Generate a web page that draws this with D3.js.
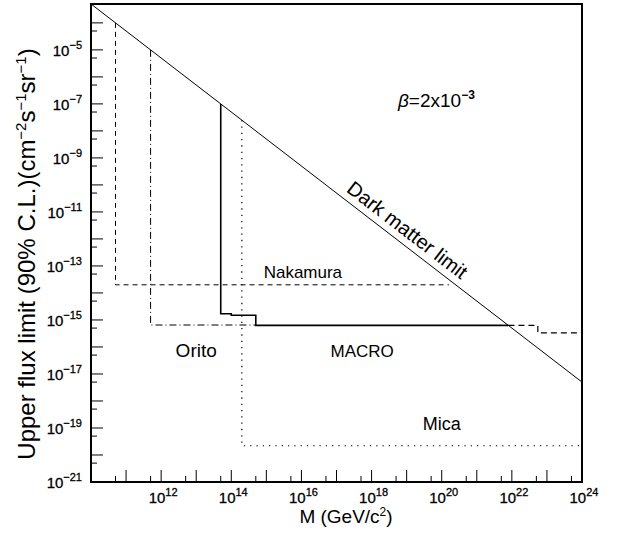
<!DOCTYPE html>
<html>
<head>
<meta charset="utf-8">
<script src="https://cdn.jsdelivr.net/npm/d3@7"></script>
<style>
  body { margin: 0; background: #fff; }
  svg text { font-family: "Liberation Sans", Arial, Helvetica, sans-serif; fill: #000; }
</style>
</head>
<body>
<div id="chart"></div>
<script>
// mass (GeV/c^2) and flux limits (cm^-2 s^-1 sr^-1)
var darkM = [1e10, 1e24]
var darkFlux = [5e-4, 5e-18]

var nakamuraM = [5e10, 5e10, 1.6e20]
var nakamuraFlux = [1e-4, 2e-14, 2e-14]

var oritoM = [5e11, 5e11, 5e14]
var oritoFlux = [1e-5, 6.5e-16, 6.5e-16]

var macroM = [5e13, 5e13, 1e14, 1e14, 5e14, 5e14, 8e21]
var macroFlux = [1e-7, 1.7e-15, 1.7e-15, 1.5e-15, 1.5e-15, 6.3e-16, 6.3e-16]

var macroExtM = [8e21, 5.5e22, 5.5e22, 1e24]
var macroExtFlux = [6.3e-16, 6.3e-16, 3.3e-16, 3.3e-16]

var micaM = [2e14, 2e14, 1e24]
var micaFlux = [2.5e-8, 2.2e-20, 2.2e-20]

var xLabelExp = [12, 14, 16, 18, 20, 22, 24]
var yLabelExp = [-21, -19, -17, -15, -13, -11, -9, -7, -5]

var width = 624, height = 537
var margin = {left: 91, right: 42, top: 4, bottom: 55}

var svg = d3.select("#chart").append("svg")
    .attr("width", width)
    .attr("height", height)

var x = d3.scaleLog().domain([1e10, 1e24]).range([margin.left, width - margin.right])
var y = d3.scaleLog().domain([1e-21, 5e-4]).range([height - margin.bottom, margin.top])

var x0 = x.range()[0], x1 = x.range()[1]
var y0 = y.range()[0], y1 = y.range()[1]

// ticks: long at each decade, short at 5 x 10^n
var xMajor = d3.range(10, 25).map(function(e) { return Math.pow(10, e) })
var xMinor = d3.range(10, 24).map(function(e) { return 5 * Math.pow(10, e) })
var yMajor = d3.range(-21, -3).map(function(e) { return Math.pow(10, e) })
var yMinor = d3.range(-21, -3).map(function(e) { return 5 * Math.pow(10, e) }).filter(function(v) { return v <= 5e-4 })

var ticks = svg.append("g").attr("stroke", "#000").attr("stroke-width", 1)

ticks.selectAll(".xt").data(xMajor.map(function(v) { return {v: v, l: 12} }).concat(xMinor.map(function(v) { return {v: v, l: 6} })))
    .enter().append("line")
    .attr("x1", function(d) { return x(d.v) }).attr("x2", function(d) { return x(d.v) })
    .attr("y1", y0).attr("y2", function(d) { return y0 - d.l })

ticks.selectAll(".yt").data(yMajor.map(function(v) { return {v: v, l: 12} }).concat(yMinor.map(function(v) { return {v: v, l: 6} })))
    .enter().append("line")
    .attr("y1", function(d) { return y(d.v) }).attr("y2", function(d) { return y(d.v) })
    .attr("x1", x0).attr("x2", function(d) { return x0 + d.l })

// tick labels
var xl = svg.selectAll(".xl").data(xLabelExp).enter().append("text")
    .attr("x", function(e) { return x(Math.pow(10, e)) + 2 })
    .attr("y", 503)
    .attr("text-anchor", "middle")
    .style("font-size", "15px")
    .style("stroke", "#000").style("stroke-width", 0.3)
xl.append("tspan").text("10")
xl.append("tspan").attr("dy", -7).style("font-size", "11px").text(function(e) { return e })

var yl = svg.selectAll(".yl").data(yLabelExp).enter().append("text")
    .attr("x", 82)
    .attr("y", function(e) { return y(Math.pow(10, e)) + 6 })
    .attr("text-anchor", "end")
    .style("font-size", "15px")
    .style("stroke", "#000").style("stroke-width", 0.3)
yl.append("tspan").text("10")
yl.append("tspan").attr("dy", -7).style("font-size", "11px").text(function(e) { return "\u2212" + (-e) })

// curves
var line = d3.line().x(function(d) { return x(d[0]) }).y(function(d) { return y(d[1]) })
function pts(m, f) { return m.map(function(v, i) { return [v, f[i]] }) }

var curves = [
    {m: darkM, f: darkFlux, dash: null, w: 1},
    {m: nakamuraM, f: nakamuraFlux, dash: "5,4", w: 1},
    {m: oritoM, f: oritoFlux, dash: "7,3,1,3", w: 1},
    {m: macroM, f: macroFlux, dash: null, w: 1.6},
    {m: macroExtM, f: macroExtFlux, dash: "6,4", w: 1.2},
    {m: micaM, f: micaFlux, dash: "1.3,5", w: 1.2}
]

svg.append("g").selectAll("path").data(curves).enter().append("path")
    .attr("d", function(c) { return line(pts(c.m, c.f)) })
    .attr("fill", "none")
    .attr("stroke", "#000")
    .attr("stroke-width", function(c) { return c.w })
    .attr("stroke-dasharray", function(c) { return c.dash })

// frame
svg.append("rect")
    .attr("x", x0).attr("y", y1)
    .attr("width", x1 - x0).attr("height", y0 - y1)
    .attr("fill", "none").attr("stroke", "#000").attr("stroke-width", 2)

// curve labels
function label(txt, cx, cy, size) {
    svg.append("text").attr("x", cx).attr("y", cy)
        .attr("text-anchor", "middle").style("font-size", size + "px").text(txt)
}
label("Nakamura", x(1.1e16), 278, 17)
label("Orito", x(1e13), 357, 19)
label("MACRO", x(5.4e17), 357, 17)
label("Mica", x(1e20), 430, 18)

// dark matter label along the line
var ang = Math.atan2(y(darkFlux[1]) - y(darkFlux[0]), x(darkM[1]) - x(darkM[0])) * 180 / Math.PI
var dmM = 6e18
var dmx = x(dmM), dmy = y(5e6 / dmM)
var off = 7
var rad = ang * Math.PI / 180
svg.append("text")
    .attr("transform", "translate(" + (dmx + off * Math.sin(rad)) + "," + (dmy - off * Math.cos(rad)) + ")rotate(" + ang + ")")
    .attr("text-anchor", "middle")
    .style("font-size", "20px")
    .text("Dark matter limit")

// beta
var beta = svg.append("text").attr("x", 398).attr("y", 107).style("font-size", "19px")
beta.append("tspan").style("font-style", "italic").text("\u03b2")
beta.append("tspan").text("=2x10")
beta.append("tspan").attr("dy", -8).style("font-size", "12px").style("font-weight", "bold").text("\u22123")

// axis titles
var xt = svg.append("text").attr("x", 346).attr("y", 523).attr("text-anchor", "middle").style("font-size", "19px")
xt.append("tspan").text("M (GeV/c")
xt.append("tspan").attr("dy", -7).style("font-size", "12px").text("2")
xt.append("tspan").attr("dy", 7).text(")")

var yt = svg.append("text").attr("transform", "translate(35,254)rotate(-90)")
    .attr("text-anchor", "middle").style("font-size", "24px")
yt.append("tspan").text("Upper flux limit (90% C.L.)(cm")
yt.append("tspan").attr("dy", -9).style("font-size", "15px").text("\u22122")
yt.append("tspan").attr("dy", 9).text("s")
yt.append("tspan").attr("dy", -9).style("font-size", "15px").text("\u22121")
yt.append("tspan").attr("dy", 9).text("sr")
yt.append("tspan").attr("dy", -9).style("font-size", "15px").text("\u22121")
yt.append("tspan").attr("dy", 9).text(")")
</script>
</body>
</html>
